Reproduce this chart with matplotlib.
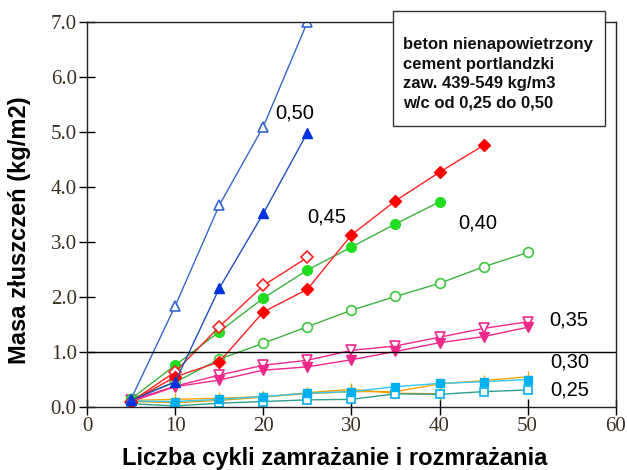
import matplotlib.pyplot as plt
from matplotlib.ticker import FormatStrFormatter

# cycles
x5 = [5, 10, 15, 20, 25]
x8 = [5, 10, 15, 20, 25, 30, 35, 40]
x9 = [5, 10, 15, 20, 25, 30, 35, 40, 45]
x10 = [5, 10, 15, 20, 25, 30, 35, 40, 45, 50]

# w/c 0,50
wc50_open = [0.15, 1.84, 3.67, 5.10, 7.0]
wc50_full = [0.12, 0.46, 2.16, 3.52, 4.99]
# w/c 0,45
wc45_open = [0.10, 0.64, 1.46, 2.21, 2.72]
wc45_full = [0.10, 0.55, 0.82, 1.73, 2.14, 3.13, 3.75, 4.27, 4.76]
# w/c 0,40
wc40_full = [0.15, 0.76, 1.37, 1.98, 2.49, 2.91, 3.33, 3.73]
wc40_open = [0.15, 0.45, 0.87, 1.16, 1.46, 1.76, 2.01, 2.25, 2.55, 2.81]
# w/c 0,35
wc35_open = [0.12, 0.38, 0.58, 0.76, 0.85, 1.03, 1.11, 1.27, 1.43, 1.55]
wc35_full = [0.10, 0.37, 0.49, 0.67, 0.73, 0.86, 1.01, 1.17, 1.28, 1.45]
# w/c 0,30
wc30_a = [0.12, 0.14, 0.16, 0.19, 0.24, 0.28, 0.28, 0.42, 0.48, 0.55]
wc30_b = [0.10, 0.08, 0.12, 0.18, 0.26, 0.32, 0.25, 0.24]
# w/c 0,25
wc25_full = [0.11, 0.10, 0.14, 0.19, 0.25, 0.28, 0.37, 0.43, 0.46, 0.50]
wc25_open = [0.06, 0.02, 0.07, 0.10, 0.13, 0.14, 0.24, 0.23, 0.28, 0.31]

labels = ["0,50", "0,45", "0,40", "0,35", "0,30", "0,25"]
label_pos = [(23.6, 5.35), (27.2, 3.45), (44.3, 3.34), (54.7, 1.58), (54.8, 0.81), (54.8, 0.31)]

info = "beton nienapowietrzony\ncement portlandzki\nzaw. 439-549 kg/m3\nw/c od 0,25 do 0,50"

fig = plt.figure(figsize=(6.27, 4.70), dpi=100)
ax = fig.add_axes([0.139, 0.134, 0.843, 0.819])

lw = 1.0
ms = 6
ax.plot(x10, wc30_a, color="#FFA500", lw=lw, marker="|", ms=8, mew=1)
ax.plot(x8, wc30_b, color="#E8A000", lw=lw, marker="|", ms=8, mew=1)
ax.plot(x10, wc25_open, color="#2E9E8E", lw=lw, marker="s", ms=ms, mfc="white", mec="#00B0F0", mew=1.2)
ax.plot(x10, wc25_full, color="#33C8F0", lw=lw, marker="s", ms=ms, mfc="#00B0F0", mec="#00B0F0")
ax.plot(x10, wc35_open, color="#F0288C", lw=lw, marker="v", ms=ms + 1, mfc="white", mec="#F0288C", mew=1.2)
ax.plot(x10, wc35_full, color="#F0288C", lw=lw, marker="v", ms=ms + 1, mfc="#F0288C", mec="#F0288C")
ax.plot(x10, wc40_open, color="#3CB43C", lw=lw, marker="o", ms=ms + 1, mfc="white", mec="#3CC83C", mew=1.2)
ax.plot(x8, wc40_full, color="#3CB43C", lw=lw, marker="o", ms=ms + 1, mfc="#22DD22", mec="#22DD22")
ax.plot(x5, wc45_open, color="#FF2020", lw=lw, marker="D", ms=ms, mfc="white", mec="#FF2020", mew=1.2)
ax.plot(x9, wc45_full, color="#FF2020", lw=lw, marker="D", ms=ms, mfc="#FF0000", mec="#FF0000")
ax.plot(x5, wc50_open, color="#3366CC", lw=lw, marker="^", ms=ms + 1, mfc="white", mec="#3366CC", mew=1.2)
ax.plot(x5, wc50_full, color="#1F4FBF", lw=lw, marker="^", ms=ms + 1, mfc="#0033DD", mec="#0033DD")

ax.axhline(1.0, color="black", lw=1)

for t, (lx, ly) in zip(labels, label_pos):
    ax.text(lx, ly, t, fontsize=14.5, family="Liberation Sans", ha="center", va="center", color="black")

ax.set_xlim(0, 60)
ax.set_ylim(0, 7)
ax.set_xticks(range(0, 61, 10))
ax.set_yticks(range(0, 8))
ax.yaxis.set_major_formatter(FormatStrFormatter("%.1f"))
ax.tick_params(direction="inout", length=11, width=1, labelsize=15, colors="black",
               labelcolor="#3a3020", pad=2)
for lab in ax.get_xticklabels() + ax.get_yticklabels():
    lab.set_family("Liberation Serif")
for s in ax.spines.values():
    s.set_linewidth(1)
    s.set_color("#222222")

ax.set_xlabel("Liczba cykli zamrażanie i rozmrażania", fontsize=17, fontweight="bold",
              family="Liberation Sans", va="center")
ax.set_ylabel("Masa złuszczeń (kg/m2)", fontsize=17, fontweight="bold",
              family="Liberation Sans", va="center")
ax.xaxis.set_label_coords(0.468, -0.135)
ax.yaxis.set_label_coords(-0.128, 0.46)

fig.text(403 / 627, 1 - 37 / 470, info, fontsize=12, fontweight="bold", family="Liberation Sans",
         va="top", ha="left", linespacing=1.38, color="#111111")
box = plt.Rectangle((393 / 627, 1 - 126 / 470), 212 / 627, 115 / 470, transform=fig.transFigure,
                    facecolor="white", edgecolor="#333333", lw=1, zorder=0)
fig.patches.append(box)

fig.savefig("out.png", dpi=100)
